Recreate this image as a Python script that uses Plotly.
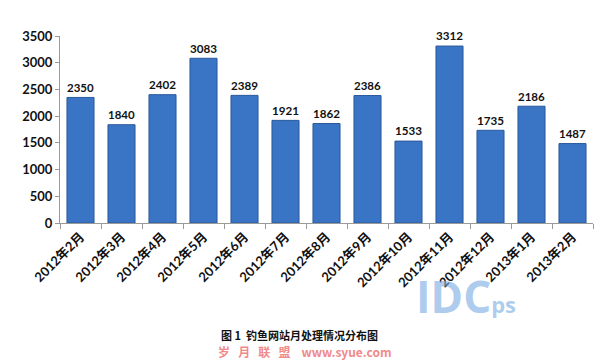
import plotly.graph_objects as go

months = ["2012年2月", "2012年3月", "2012年4月", "2012年5月", "2012年6月", "2012年7月",
          "2012年8月", "2012年9月", "2012年10月", "2012年11月", "2012年12月", "2013年1月", "2013年2月"]
counts = [2350, 1840, 2402, 3083, 2389, 1921, 1862, 2386, 1533, 3312, 1735, 2186, 1487]
y_ticks = [0, 500, 1000, 1500, 2000, 2500, 3000, 3500]
caption = "图 1  钓鱼网站月处理情况分布图"

FONT = "Lato, 'Noto Sans CJK SC', sans-serif"

fig = go.Figure()
fig.add_trace(go.Bar(
    x=months, y=counts,
    marker=dict(color="#3a74c4", line=dict(color="#2a5a9c", width=1)),
    text=[str(v) for v in counts], textposition="outside",
    textfont=dict(family=FONT, size=13, color="#111111", weight="bold"),
    cliponaxis=False,
))

# page body has an 8px margin, so the figure is sized/offset to compensate
fig.update_layout(
    width=603, height=353,
    margin=dict(l=52, r=18, t=28, b=138, autoexpand=False),
    paper_bgcolor="white", plot_bgcolor="white",
    bargap=0.34, showlegend=False,
    font=dict(family=FONT, color="#111111"),
    xaxis=dict(
        type="category", tickangle=-45, automargin=False,
        tickfont=dict(family=FONT, size=13, color="#111111", weight="bold"),
        showline=True, linecolor="#9a9a9a", linewidth=1,
        ticks="outside", ticklen=5, tickcolor="#9a9a9a", tickson="boundaries",
        showgrid=False,
    ),
    yaxis=dict(
        range=[0, 3500], tickvals=y_ticks, automargin=False,
        tickfont=dict(family=FONT, size=13, color="#111111", weight="bold"),
        showline=True, linecolor="#9a9a9a", linewidth=1,
        ticks="outside", ticklen=4, tickcolor="#9a9a9a",
        showgrid=False, zeroline=False,
    ),
)

fig.add_annotation(text=caption, xref="paper", yref="paper", x=0.45, y=-0.60,
                   xanchor="center", yanchor="middle", showarrow=False,
                   font=dict(family="'Noto Sans CJK SC', sans-serif", size=11, color="#111111", weight="bold"))
fig.add_annotation(text="岁   月   联   盟    www.syue.com", xref="paper", yref="paper", x=0.46, y=-0.685,
                   xanchor="center", yanchor="middle", showarrow=False,
                   font=dict(family="'Noto Sans CJK SC', sans-serif", size=12, color="#f08a8a", weight="bold"))
fig.add_annotation(text="IDC<span style='font-size:22px'>ps</span>", xref="paper", yref="paper", x=0.762, y=-0.39,
                   xanchor="center", yanchor="middle", showarrow=False,
                   font=dict(family="'Open Sans', sans-serif", size=44, color="rgba(120,170,225,0.6)", weight="bold"))

fig.write_html("out.html")
